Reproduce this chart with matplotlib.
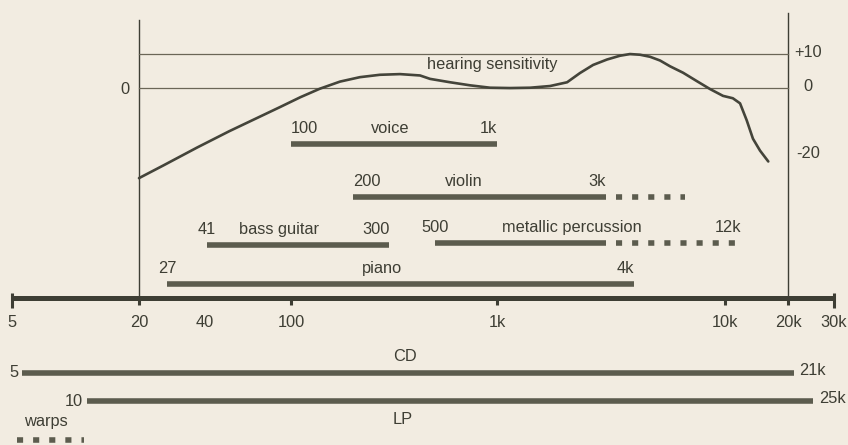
import numpy as np
import matplotlib.pyplot as plt

plt.rcParams['font.family'] = ['Liberation Sans', 'DejaVu Sans']
plt.rcParams['font.size'] = 11.8

# hearing sensitivity curve (Hz, dB)
curve_freq = [20, 26, 37, 52, 72, 89, 111, 138, 173, 216, 270, 338, 423, 473,
              592, 740, 925, 1140, 1400, 1710, 2030, 2310, 2640, 3040, 3460,
              3830, 4240, 4690, 5190, 5740, 6550, 7540, 8600, 9800, 10900,
              11800, 12700, 13600, 14700, 16100]
curve_db = [-26.5, -22.7, -17.5, -12.7, -8.4, -5.6, -2.7, -0.2, 1.9, 3.2, 3.9,
            4.1, 3.7, 2.7, 1.7, 0.8, 0.1, 0.0, 0.1, 0.6, 1.7, 4.4, 6.8, 8.4,
            9.5, 10.0, 9.8, 9.2, 8.1, 6.4, 4.5, 2.0, -0.3, -2.3, -3.0, -4.5,
            -9.5, -14.9, -18.4, -21.6]

# instrument ranges (Hz); ext = dotted continuation
instruments = ['voice', 'violin', 'bass guitar', 'metallic percussion', 'piano']
inst_low = [100, 200, 41, 500, 27]
inst_high = [1000, 3000, 300, 3000, 4000]
inst_ext = [None, 6700, None, 12000, None]
inst_low_lbl = ['100', '200', '41', '500', '27']
inst_high_lbl = ['1k', '3k', '300', '12k', '4k']

# recording media (Hz, as drawn)
media = ['CD', 'LP']
media_low = [5.6, 11.3]
media_high = [21000, 25000]
media_low_lbl = ['5', '10']
media_high_lbl = ['21k', '25k']
warps = [5.3, 11.0]

# frequency axis
tick_freq = [5, 20, 100, 1000, 10000, 20000, 30000]
label_freq = [5, 20, 40, 100, 1000, 10000, 20000, 30000]
label_text = ['5', '20', '40', '100', '1k', '10k', '20k', '30k']

db_right = [10, 0, -20]
db_right_lbl = ['+10', '0', '-20']

# layout (y in dB units, 3.4 px per dB)
BG = '#f2ece1'
INK = '#3e3e34'
BAR = '#5c5c4e'
ROW = [-16.5, -32.1, -46.2, -45.6, -57.6]
NAME_PX = [390, 464, 279, 572, 382]
LOW_HA = ['left', 'left', 'center', 'center', 'center']
AXIS_Y = -61.8
MEDIA_ROW = [-83.8, -92.1]
MEDIA_NAME_DY = [4.7, -5.3]
MEDIA_NAME_PX = [405, 403]

# the hand drawn axis is only roughly logarithmic: map log10(f) onto the drawn ticks
_lg = np.log10([4.38, 5, 20, 100, 1000, 10000, 20000, 30000, 34000])
_px = np.array([0, 12, 139, 291, 497, 725, 788, 834, 848], float)


def fwd(f):
    return np.interp(np.log10(np.clip(f, 1e-6, None)), _lg, _px)


def inv(p):
    return 10 ** np.interp(p, _px, _lg)


fig = plt.figure(figsize=(8.48, 4.45), dpi=100)
fig.patch.set_facecolor(BG)
ax = fig.add_axes([0, 0, 1, 1])
ax.set_facecolor(BG)
ax.set_xscale('function', functions=(fwd, inv))
ax.set_xlim(4.38, 34000)
ax.set_ylim(-105.0, 25.9)
ax.axis('off')

# frame of the sensitivity plot
ax.plot([20, 20], [AXIS_Y, 20], color=INK, lw=1.0)
ax.plot([20000, 20000], [AXIS_Y, 22], color=INK, lw=1.0)
for v in (10, 0):
    ax.plot([20, 20000], [v, v], color='#6b6657', lw=0.9)
for v, t in zip(db_right, db_right_lbl):
    ax.text(inv(808), v + 0.6, t, ha='center', va='center', color=INK)
ax.text(inv(125), -0.3, '0', ha='center', va='center', color=INK)

ax.plot(curve_freq, curve_db, color='#44443a', lw=1.9,
        solid_capstyle='round', solid_joinstyle='round')
ax.text(inv(492), 6.8, 'hearing sensitivity', ha='center', va='center', color=INK)

# instrument bars
dots = (1.1, (1.1, 1.8))
for i, name in enumerate(instruments):
    y = ROW[i]
    ax.plot([inst_low[i], inst_high[i]], [y, y], color=BAR, lw=4, solid_capstyle='butt')
    end = inst_high[i]
    if inst_ext[i]:
        ax.plot([inst_high[i], inst_ext[i]], [y, y], color=BAR, lw=4,
                linestyle=dots, dash_capstyle='butt')
        end = inst_ext[i] if inst_high_lbl[i] == '12k' else inst_high[i]
    ax.text(inst_low[i], y + 4.6, inst_low_lbl[i], ha=LOW_HA[i], va='center', color=INK)
    ax.text(end, y + 4.6, inst_high_lbl[i], ha='right', va='center', color=INK)
    ax.text(inv(NAME_PX[i]), y + 4.6, name, ha='center', va='center', color=INK)

# frequency axis
ax.plot([5, 30000], [AXIS_Y, AXIS_Y], color=INK, lw=3.6, solid_capstyle='butt')
for f in tick_freq:
    big = f in (5, 30000)
    ax.plot([f, f], [AXIS_Y + (1.5 if big else 0), AXIS_Y - (2.8 if big else 2.0)],
            color=INK, lw=2.2, solid_capstyle='butt')
for f, t in zip(label_freq, label_text):
    ax.text(f, -69.1, t, ha='center', va='center', color=INK)

# recording media
for i, name in enumerate(media):
    y = MEDIA_ROW[i]
    ax.plot([media_low[i], media_high[i]], [y, y], color=BAR, lw=4, solid_capstyle='butt')
    ax.annotate(media_low_lbl[i], (media_low[i], y), xytext=(-3, 0),
                textcoords='offset points', ha='right', va='center', color=INK)
    ax.annotate(media_high_lbl[i], (media_high[i], y + 0.8), xytext=(4, 0),
                textcoords='offset points', ha='left', va='center', color=INK)
    ax.text(inv(MEDIA_NAME_PX[i]), y + MEDIA_NAME_DY[i], name, ha='center',
            va='center', color=INK)

ax.plot(warps, [-103.5, -103.5], color=BAR, lw=4, linestyle=(0, (1.1, 1.8)),
        dash_capstyle='butt')
ax.text(inv(46), -98.2, 'warps', ha='center', va='center', color=INK)

fig.savefig('out.png', dpi=100, facecolor=BG)
